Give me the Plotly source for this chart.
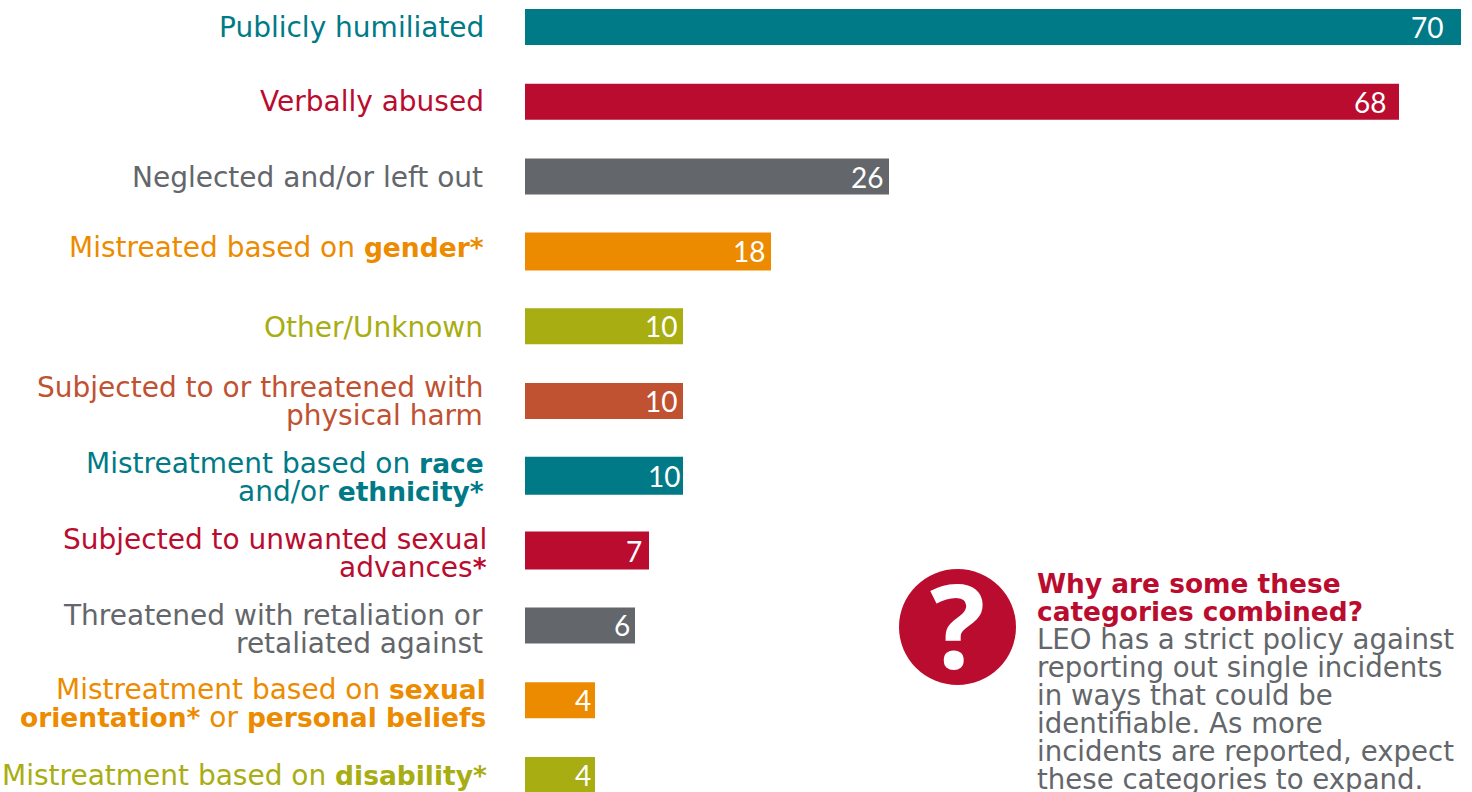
import plotly.graph_objects as go

categories = ["Publicly humiliated", "Verbally abused", "Neglected and/or left out",
              "Mistreated based on gender*", "Other/Unknown",
              "Subjected to or threatened with physical harm",
              "Mistreatment based on race and/or ethnicity*",
              "Subjected to unwanted sexual advances*",
              "Threatened with retaliation or retaliated against",
              "Mistreatment based on sexual orientation* or personal beliefs",
              "Mistreatment based on disability*"]
values = ["70", "68", "26", "18", "10", "10", "10", "7", "6", "4", "4"]
# drawn lengths (the bars are not proportional to their labels)
bar_lengths = [936, 874, 364, 246, 158, 158, 158, 124, 110, 70, 70]
label_lines = [["Publicly humiliated"], ["Verbally abused"], ["Neglected and/or left out"],
               ["Mistreated based on [gender*]"], ["Other/Unknown"],
               ["Subjected to or threatened with", "physical harm"],
               ["Mistreatment based on [race]", "and/or [ethnicity*]"],
               ["Subjected to unwanted sexual", "advances[*]"],
               ["Threatened with retaliation or", "retaliated against"],
               ["Mistreatment based on [sexual]", "[orientation*] or [personal beliefs]"],
               ["Mistreatment based on [disability*]"]]
note_title = ["Why are some these", "categories combined?"]
note_body = ["LEO has a strict policy against", "reporting out single incidents", "in ways that could be",
             "identifiable. As more", "incidents are reported, expect", "these categories to expand."]

colors = ["#007A87", "#BA0C2F", "#63666A", "#ED8B00", "#A8AD12", "#C05131",
          "#007A87", "#BA0C2F", "#63666A", "#ED8B00", "#A8AD12"]
bar_px = [36, 36, 36, 38, 36, 36, 38, 38, 36, 36, 36]
label_dy = [0, 0, 1, -4, 1, 0, 2, 3, 4.5, 3, 0]
label_right = [-41, -41, -42, -41, -42, -42, -41, -38, -42, -39, -38]
value_pad = [16, 11, 4, 4, 4, 4, 1, 5, 3, 2, 2]
ROW = 74.8
W, H = 1472, 792
FONT = "DejaVu Sans"
LABEL_SIZE = 28
BOLD_SIZE = 26.5


def rich(t):
    return t.replace("[", f'<span style="font-size:{BOLD_SIZE}px"><b>').replace("]", "</b></span>")


fig = go.Figure(go.Bar(x=bar_lengths, y=categories, orientation="h",
                       width=[p / ROW for p in bar_px], marker=dict(color=colors, line_width=0),
                       hoverinfo="skip"))
ann = []
for i, lines in enumerate(label_lines):
    n = len(lines)
    for j, t in enumerate(lines):
        ann.append(dict(x=label_right[i] + 2, y=i, xref="x", yref="y", xanchor="right", yanchor="middle",
                        yshift=-(label_dy[i] + (j - (n - 1) / 2) * 28), showarrow=False, text=rich(t),
                        font=dict(family=FONT, size=LABEL_SIZE, color=colors[i])))
    ann.append(dict(x=bar_lengths[i], y=i, xref="x", yref="y", xanchor="right", yanchor="middle",
                    xshift=-value_pad[i], showarrow=False, text=values[i],
                    font=dict(family="Lato", size=28, color="white")))


def px(xp, yp):
    return xp / W, 1 - yp / H


for k, t in enumerate(note_title):
    x, y = px(1035, 583 + k * 28)
    ann.append(dict(x=x, y=y, xref="paper", yref="paper", xanchor="left", yanchor="middle", showarrow=False,
                    text=f"<b>{t}</b>", font=dict(family=FONT, size=26.4, color="#BA0C2F")))
for k, t in enumerate(note_body):
    x, y = px(1035, 639 + k * 28)
    ann.append(dict(x=x, y=y, xref="paper", yref="paper", xanchor="left", yanchor="middle", showarrow=False,
                    text=t, font=dict(family=FONT, size=27.6, color="#63666A")))
x, y = px(957, 623)
ann.append(dict(x=x, y=y, xref="paper", yref="paper", xanchor="center", yanchor="middle", showarrow=False,
                text="<b>?</b>", font=dict(family="Open Sans", size=116, color="white")))
x0, y0 = px(899, 569)
x1, y1 = px(1016, 685)

fig.update_layout(
    width=W, height=H, margin=dict(l=0, r=0, t=0, b=0), paper_bgcolor="white", plot_bgcolor="white",
    showlegend=False, annotations=ann,
    shapes=[dict(type="circle", xref="paper", yref="paper", x0=x0, y0=y0, x1=x1, y1=y1,
                 fillcolor="#BA0C2F", line_width=0, layer="below")],
    xaxis=dict(range=[-525, 947], visible=False, fixedrange=True),
    yaxis=dict(type="category", categoryorder="array", categoryarray=categories,
               range=[10 + 17 / ROW, -27 / ROW], visible=False, fixedrange=True),
)
fig.write_html("out.html", config={"displayModeBar": False},
               post_script="document.body.style.margin='0';document.documentElement.style.overflow='hidden';")
